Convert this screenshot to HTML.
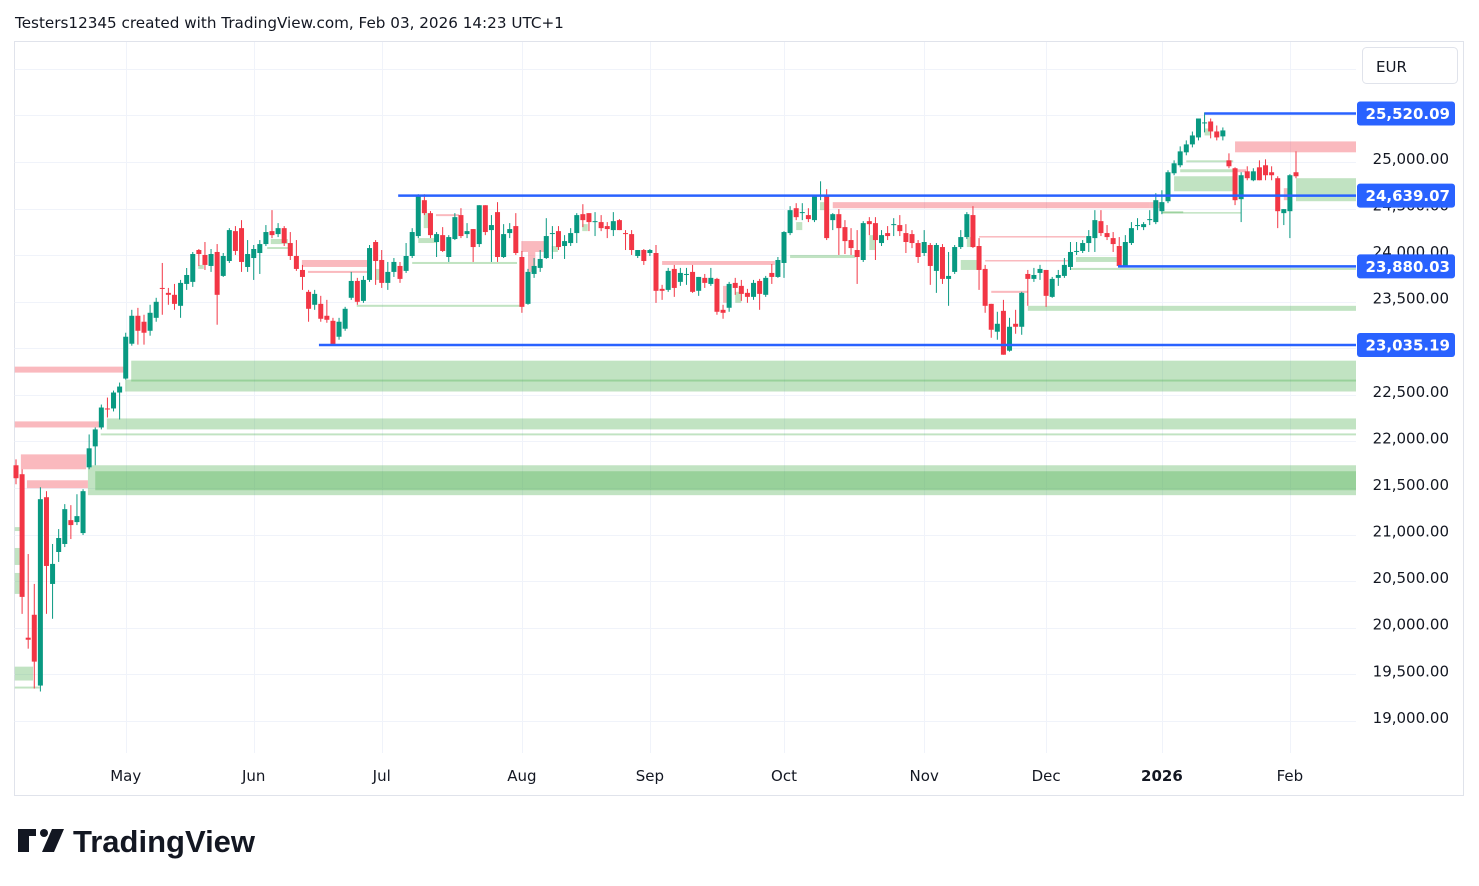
<!DOCTYPE html>
<html><head><meta charset="utf-8"><style>
html,body{margin:0;padding:0;background:#fff;width:1479px;height:886px;overflow:hidden}
svg{display:block}
text{font-family:"DejaVu Sans","Liberation Sans",sans-serif}
</style></head><body>
<svg id="chart" width="1479" height="886" xmlns="http://www.w3.org/2000/svg">
<text x="15" y="28" font-size="15.2" fill="#131722">Testers12345 created with TradingView.com, Feb 03, 2026 14:23 UTC+1</text>
<rect x="14.5" y="41.5" width="1449" height="754" fill="none" stroke="#e0e3eb" stroke-width="1"/>
<g id="grid"></g>
<g id="zones" transform="translate(0,-2.7)"></g>
<g id="candles" transform="translate(0,-2.7)"></g>
<g id="hlines"></g>
<g id="yaxis"></g>
<g id="xaxis"></g>
<g id="plabels"></g>
<g>
<rect x="1362.5" y="47.5" width="95" height="36" rx="4" fill="#fff" stroke="#e0e3eb"/>
<text x="1376" y="72" font-size="15" fill="#131722">EUR</text>
</g>
<g>
<path d="M18 829h18v7h-7v16h-11z" fill="#131722"/>
<circle cx="44" cy="833" r="4" fill="#131722"/>
<path d="M52 829h12l-10 23h-12z" fill="#131722"/>
<text x="73" y="852" font-size="31" font-weight="bold" fill="#131722" style="font-family:'Liberation Sans',sans-serif">TradingView</text>
</g>
</svg>
<script>
const opens=[21715,21619,19864,20110,19350,21372,20441,20784,20870,21126,21105,20987,21693,21918,22121,22325,22325,22496,22646,23020,23320,23256,23159,23298,23619,23566,23545,23427,23662,23684,24026,23973,23855,24005,23748,23908,24229,24261,23844,23940,23994,24090,24229,24197,24261,24101,23962,23812,23577,23438,23448,23320,23266,23095,23181,23513,23694,23480,23705,24112,23919,
23673,23791,23855,23802,23962,24176,24561,24422,24112,24186,23951,24144,24401,24197,24251,24090,24507,24240,24433,23951,24208,24283,23951,23448,23769,23834,23940,24208,24229,24069,24101,24208,24411,24422,24336,24326,24283,24240,24347,24208,24197,23962,24026,23994,23994,23609,23598,23823,23684,23769,23791,23588,23727,23662,23716,23384,23406,23673,23641,23566,23523,23694,23545,23780,23737,23887,24208,24475,
24433,24401,24347,24615,24615,24347,24411,24272,24133,24026,23919,24336,24315,24101,24208,24304,24294,24208,24197,24101,23994,24080,23802,24058,23716,23791,24058,24165,24401,24069,23823,23448,23149,23373,22945,23234,23202,23769,23716,23780,23812,23523,23727,23748,23844,24016,24016,24101,24154,24336,24208,24154,24069,23855,24101,24294,24272,24347,24326,24443,
24550,24850,24936,25075,25160,25235,25396,25406,25299,25246,24989,24904,24572,24871,24775,24914,24936,24861,24797,24422,24443,24861];
const closes=[21576,20302,19842,19607,21351,20634,20656,20934,21244,21073,21169,21437,21897,22100,22335,22314,22496,22560,23095,23320,23159,23138,23352,23470,23609,23545,23448,23673,23758,23983,23983,23866,23983,23545,23962,24240,24016,23898,23983,24037,24090,24219,24186,24261,24101,23962,23823,23737,23395,23555,23288,23277,23010,23256,23395,23694,23470,23705,24047,23908,23673,
23791,23898,23716,23962,24219,24615,24422,24186,24197,24016,24165,24379,24176,24229,24058,24507,24219,24294,23951,24197,24251,23994,23416,23791,23855,23930,24176,24208,24058,24122,24208,24401,24347,24326,24336,24261,24251,24336,24240,24197,24026,24026,23908,24026,23588,23588,23802,23619,23780,23769,23577,23737,23673,23727,23363,23352,23662,23619,23555,23523,23673,23555,23727,23737,23919,24219,24454,24379,
24433,24358,24615,24615,24154,24411,24261,24122,24047,23951,24315,24304,24133,24186,24176,24304,24229,24112,24101,23951,24112,23855,24080,23716,23748,24058,24165,24411,24058,23812,23427,23170,23234,22902,23202,23202,23566,23716,23758,23823,23534,23716,23758,23866,24005,24016,24101,24176,24347,24208,24165,24090,23855,24112,24261,24294,24304,24358,24561,24540,
24861,24957,25085,25160,25256,25438,25396,25299,25235,25310,24925,24561,24829,24797,24871,24775,24829,24829,24443,24465,24829,24818];
const highs=[21779,21672,20762,20441,21479,21437,20870,21030,21298,21287,21404,21458,22046,22121,22367,22442,22517,22603,23138,23384,23405,23331,23438,23513,23887,23619,23662,23705,23833,24005,24037,24112,24037,24090,23994,24261,24283,24347,24133,24080,24133,24294,24454,24315,24283,24219,24133,23866,23598,23598,23534,23491,23298,23298,23416,23791,23727,23748,24080,24133,24026,
23898,23940,23898,24101,24261,24625,24625,24444,24219,24272,24186,24422,24475,24315,24251,24507,24507,24401,24540,24304,24315,24422,24016,23823,23940,24026,24368,24283,24283,24186,24261,24422,24518,24422,24433,24401,24326,24433,24358,24240,24240,24026,24037,24037,24080,23652,23834,23866,23834,23834,23866,23737,23769,23834,23727,23438,23684,23727,23705,23609,23705,23716,23748,23876,23951,24229,24497,24529,
24529,24475,24615,24764,24679,24422,24465,24347,24261,24240,24336,24379,24379,24240,24283,24368,24401,24304,24240,24133,24240,24101,24101,24090,24005,24080,24240,24433,24497,24154,23866,23448,23363,23491,23298,23384,23577,23812,23834,23866,23812,23737,23812,23940,24112,24112,24133,24240,24454,24454,24294,24219,24165,24186,24326,24368,24326,24454,24636,24668,
24882,24989,25139,25203,25298,25438,25503,25438,25363,25342,25064,24914,24861,24925,24904,24989,25000,24925,24818,24465,24840,25085];
const lows=[21511,20120,19746,19318,19286,20120,20067,20677,20837,20923,21073,20966,21672,21715,22100,22228,22293,22207,22635,22999,23010,23010,23106,23256,23331,23438,23384,23298,23598,23630,23855,23812,23791,23224,23737,23887,23973,23791,23791,23705,23769,24069,24154,24165,24069,23919,23802,23598,23256,23384,23256,23245,22999,23063,23159,23491,23438,23459,23684,23652,23619,
23598,23737,23673,23780,23940,24154,24401,24154,23951,24005,23898,24133,24154,24154,23898,24058,24186,23898,23898,23940,24154,23973,23352,23438,23727,23791,23930,23930,24026,23930,24069,24101,24272,24229,24176,24229,24154,24176,24240,24026,23973,23940,23866,23962,23459,23491,23577,23523,23641,23652,23566,23534,23619,23641,23331,23288,23363,23545,23480,23459,23491,23384,23523,23662,23727,23727,24186,24347,
24347,24326,24326,24561,24133,24240,23973,23983,23973,23662,23898,24186,23919,24069,24133,24176,24176,23994,24047,23887,23962,23652,23566,23662,23427,23769,24037,24144,24047,23598,23352,23084,23063,22902,22935,23127,23116,23427,23684,23705,23416,23513,23641,23727,23812,23973,23994,24005,24005,24176,24133,24005,23855,23855,24080,24240,24240,24294,24304,24411,
24529,24829,24914,25043,25128,25203,25289,25225,25203,25203,24904,24508,24326,24775,24765,24775,24775,24775,24261,24294,24154,24797];
// zones: [startIndex, endIndex (null = right edge), topPrice, bottomPrice, kind]
const zones=[[-0.2,17.7,22774,22710,'r'],[18.9,null,22838,22614,'g'],[17.9,null,22635,22507,'g'],[-0.2,13.6,22186,22121,'r'],[14.9,null,22218,22100,'g'],[13.9,null,22057,22036,'g'],[0.8,11.5,21832,21672,'r'],[1.8,11.8,21554,21469,'r'],[11.8,null,21715,21394,'g'],[13,null,21651,21447,'g'],[-0.2,0.7,21051,21009,'g'],[-0.2,0.7,20827,20645,'g'],[-0.2,0.7,20559,20334,'g'],[-0.2,2.8,19553,19404,'g'],[-0.2,3.9,19339,19318,'g'],[29.9,30.8,23866,23823,'g'],[41.8,44.6,24144,24090,'g'],[41.2,44.8,24058,24037,'g'],[46.9,57.9,23919,23844,'r'],[47.9,57.6,23802,23780,'r'],[58.9,59.9,23823,23705,'g'],[55.9,82.9,23438,23416,'g'],[66.9,67.6,24422,24261,'g'],[68.9,72.7,24411,24390,'r'],[66,69.1,24154,24101,'g'],[65,82.2,23898,23876,'g'],[82.9,86.8,24122,24005,'r'],[84,85.2,24005,23791,'r'],[87.9,88.9,24069,24005,'g'],[92.9,93.8,24304,24229,'g'],[106,124.5,23908,23866,'r'],[116,117,23641,23459,'r'],[118,119,23577,23459,'g'],[128,129,24326,24240,'g'],[127,137.7,23973,23940,'g'],[134,186,24540,24475,'r'],[131.9,132.9,24540,24454,'g'],[140,141,24186,24026,'g'],[158,175.5,24176,24165,'r'],[159,172.6,23919,23908,'r'],[155,158.3,23919,23812,'g'],[156,157,24165,24058,'g'],[160,166,23588,23566,'r'],[166,null,23427,23373,'g'],[173.9,180.6,23951,23898,'g'],[172.9,null,23834,23812,'g'],[188,191.5,24443,24422,'g'],[195,196,25331,25256,'g'],[192,199.7,24989,24968,'g'],[191,199.7,24893,24861,'g'],[190,200,24818,24657,'g'],[200,201.8,24893,24861,'r'],[210,null,24797,24550,'g'],[208,209,24690,24561,'r'],[188,201,24433,24422,'g'],[186,188,24540,24475,'r'],[200,null,25192,25075,'r']];
const levelStarts=[195,62.7,180.8,49.7];
const levelPrices=[25520.09,24639.07,23880.03,23035.19];
const tickPrices=[26000,25500,25000,24500,24000,23500,23000,22500,22000,21500,21000,20500,20000,19500,19000];
const tickText=['','','25,000.00','24,500.00','24,000.00','23,500.00','23,000.00','22,500.00','22,000.00','21,500.00','21,000.00','20,500.00','20,000.00','19,500.00','19,000.00'];
const monthIdx=[18,39,60,83,104,126,149,169,188,209];
const monthText=['May','Jun','Jul','Aug','Sep','Oct','Nov','Dec','2026','Feb'];

const NS='http://www.w3.org/2000/svg';
const PL=14.5,PR=1356,PT=42,PB=753;
const X0=16,STEP=1280/210;
function xs(i){return X0+i*STEP;}
function ys(p){return 162+(25000-p)*0.093143;}
function mk(tag,attrs,parent){const e=document.createElementNS(NS,tag);for(const k in attrs)e.setAttribute(k,attrs[k]);parent.appendChild(e);return e;}
const grid=document.getElementById('grid');
tickPrices.forEach((p,i)=>{const y=Math.round(ys(p))+0.5;
 const l=mk('line',{x1:PL,x2:PR,y1:y,y2:y,stroke:'#f0f3fa','stroke-width':1},grid);
 
 });
monthIdx.forEach(i=>{const x=Math.round(xs(i))+0.5;
 const l=mk('line',{x1:x,x2:x,y1:PT,y2:PB,stroke:'#f0f3fa','stroke-width':1},grid);
 
 });
const zg=document.getElementById('zones');
zones.forEach(z=>{const x1=xs(z[0]);const x2=z[1]===null?PR:xs(z[1]);const y1=ys(z[2]),y2=ys(z[3]);
 const r=mk('rect',{x:x1,y:y1,width:Math.max(1,x2-x1),height:Math.max(1.5,y2-y1),fill:z[4]==='g'?'rgba(76,175,80,0.35)':'rgba(242,54,69,0.35)'},zg);
 
 });
const cg=document.getElementById('candles');
opens.forEach((o,i)=>{const c=closes[i];const up=c>=o;const col=up?'#089981':'#f23645';const x=xs(i);
 const g=mk('g',{},cg);
 
 
 mk('line',{x1:x,x2:x,y1:ys(highs[i]),y2:ys(lows[i]),stroke:col,'stroke-width':1},g);
 const top=ys(Math.max(o,c)),bot=ys(Math.min(o,c));
 mk('rect',{x:x-2.5,y:top,width:5,height:Math.max(1,bot-top),fill:col},g);});
const hg=document.getElementById('hlines');
levelPrices.forEach((p,i)=>{const y=ys(p);
 const l=mk('line',{x1:xs(levelStarts[i]),x2:PR,y1:y,y2:y,stroke:'#2962ff','stroke-width':2.5},hg);
 
 });
const ya=document.getElementById('yaxis');
tickPrices.forEach((p,i)=>{if(!tickText[i])return;
 const t=mk('text',{x:1449,y:ys(p)+2,'text-anchor':'end','font-size':15,fill:'#131722'},ya);
 t.textContent=tickText[i];
 
 });
const xa=document.getElementById('xaxis');
monthIdx.forEach((i,k)=>{
 const t=mk('text',{x:xs(i),y:781,'text-anchor':'middle','font-size':15,fill:'#131722','font-weight':monthText[k]==='2026'?'bold':'normal'},xa);
 t.textContent=monthText[k];
 
 });
const pg=document.getElementById('plabels');
levelPrices.forEach(p=>{const y=ys(p);
 const g=mk('g',{},pg);
 
 
 mk('rect',{x:1357,y:y-12,width:98,height:24,rx:3,fill:'#2962ff'},g);
 const t=mk('text',{x:1450,y:y+5.5,'text-anchor':'end','font-size':15,'font-weight':'bold',fill:'#fff'},g);
 t.textContent=p.toLocaleString('en-US',{minimumFractionDigits:2,maximumFractionDigits:2});});
</script>
</body></html>
